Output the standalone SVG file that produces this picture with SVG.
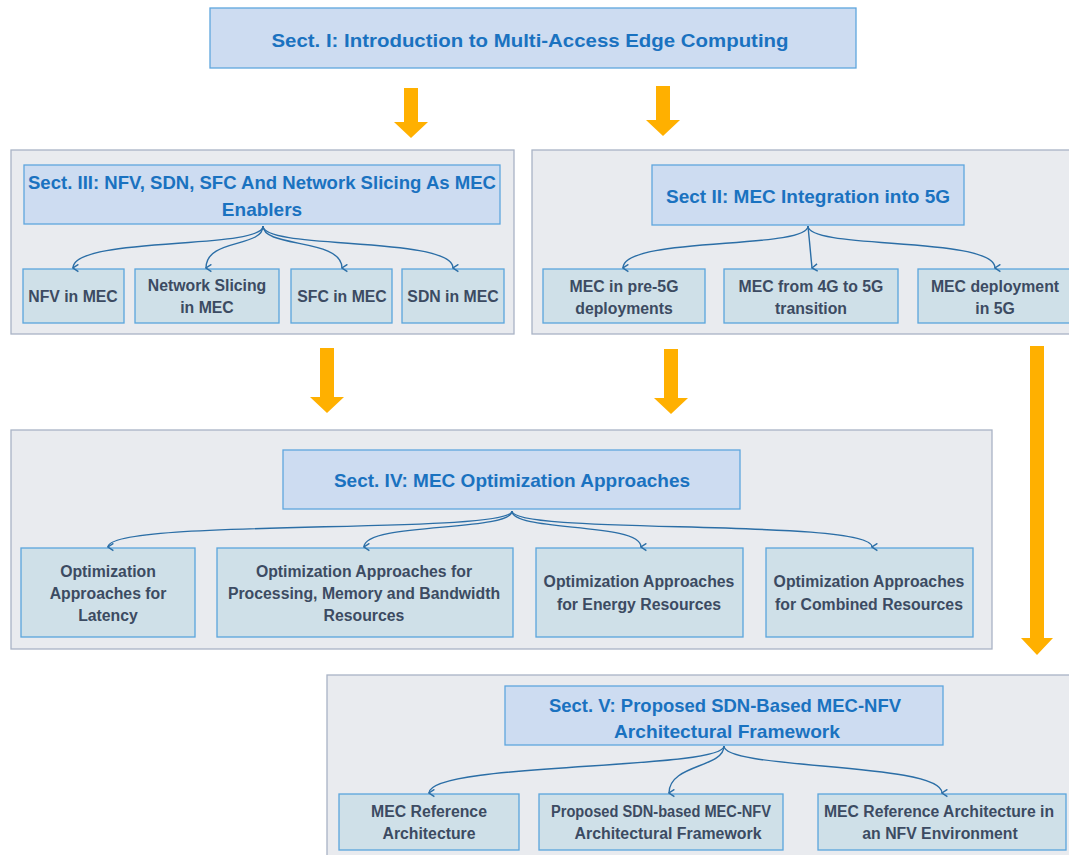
<svg xmlns="http://www.w3.org/2000/svg" width="1069" height="855" viewBox="0 0 1069 855">
<defs>
<style>
.panel{fill:#e9ebef;stroke:#a9b3c5;stroke-width:1.3}
.hdr{fill:#cddcf1;stroke:#5ea6de;stroke-width:1.3}
.chd{fill:#cfe0e8;stroke:#5aa5dc;stroke-width:1.3}
.ht{font-family:"Liberation Sans",Arial,sans-serif;font-weight:bold;font-size:19px;fill:#1a72c0;text-anchor:middle}
.ct{font-family:"Liberation Sans",Arial,sans-serif;font-weight:bold;font-size:15.8px;fill:#3c4b62;text-anchor:middle}
.con{fill:none;stroke:#2b6ea6;stroke-width:1.4;marker-end:url(#ah)}
.big{fill:#ffb000}
</style>
<marker id="ah" viewBox="0 0 10 10" refX="5" refY="9" markerWidth="9" markerHeight="9" markerUnits="userSpaceOnUse" orient="auto-start-reverse">
<path d="M1,3 L5,9 L9,3" fill="none" stroke="#2b6ea6" stroke-width="1.6"/>
</marker>
</defs>
<rect width="1069" height="855" fill="#ffffff"/>

<g id="arrows">
<path class="big" d="M404,88 H418 V122 H428 L411,138 L394,122 H404 Z"/>
<path class="big" d="M656,86 H670 V120 H680 L663,136 L646,120 H656 Z"/>
<path class="big" d="M320,348 H334 V397 H344 L327,413 L310,397 H320 Z"/>
<path class="big" d="M664,349 H678 V398 H688 L671,414 L654,398 H664 Z"/>
<path class="big" d="M1030,346 H1044 V638 H1053 L1037,655 L1021,638 H1030 Z"/>
</g>

<g id="sect1">
<rect class="hdr" x="210" y="8" width="646" height="60"/>
<text class="ht" x="530" y="47" textLength="517" lengthAdjust="spacingAndGlyphs">Sect. I: Introduction to Multi-Access Edge Computing</text>
</g>

<g id="panel3">
<rect class="panel" x="11" y="150" width="503" height="184"/>
</g>
<g id="panel2">
<rect class="panel" x="532" y="150" width="545" height="184"/>
</g>
<g id="panel4">
<rect class="panel" x="11" y="430" width="981" height="219"/>
</g>
<g id="panel5">
<rect class="panel" x="327" y="675" width="750" height="190"/>
</g>

<g id="sect3">
<rect class="hdr" x="24" y="165" width="476" height="59"/>
<text class="ht" x="262" y="189" textLength="468" lengthAdjust="spacingAndGlyphs">Sect. III: NFV, SDN, SFC And Network Slicing As MEC</text>
<text class="ht" x="262" y="216">Enablers</text>
</g>
<g id="nfv"><rect class="chd" x="23" y="269" width="101" height="54"/><text class="ct" x="73" y="302">NFV in MEC</text></g>
<g id="slicing"><rect class="chd" x="135" y="269" width="144" height="54"/><text class="ct" x="207" y="291">Network Slicing</text><text class="ct" x="207" y="313">in MEC</text></g>
<g id="sfc"><rect class="chd" x="291" y="269" width="101" height="54"/><text class="ct" x="342" y="302">SFC in MEC</text></g>
<g id="sdn"><rect class="chd" x="402" y="269" width="102" height="54"/><text class="ct" x="453" y="302">SDN in MEC</text></g>

<g id="sect2">
<rect class="hdr" x="652" y="165" width="312" height="60"/>
<text class="ht" x="808" y="203">Sect II: MEC Integration into 5G</text>
</g>
<g id="pre5g"><rect class="chd" x="543" y="269" width="162" height="54"/><text class="ct" x="624" y="292">MEC in pre-5G</text><text class="ct" x="624" y="314">deployments</text></g>
<g id="transition"><rect class="chd" x="724" y="269" width="174" height="54"/><text class="ct" x="811" y="292">MEC from 4G to 5G</text><text class="ct" x="811" y="314">transition</text></g>
<g id="deploy5g"><rect class="chd" x="918" y="269" width="160" height="54"/><text class="ct" x="995" y="292">MEC deployment</text><text class="ct" x="995" y="314">in 5G</text></g>

<g id="sect4">
<rect class="hdr" x="283" y="450" width="457" height="59"/>
<text class="ht" x="512" y="487">Sect. IV: MEC Optimization Approaches</text>
</g>
<g id="latency"><rect class="chd" x="21" y="548" width="174" height="89"/><text class="ct" x="108" y="577">Optimization</text><text class="ct" x="108" y="599">Approaches for</text><text class="ct" x="108" y="621">Latency</text></g>
<g id="processing"><rect class="chd" x="217" y="548" width="296" height="89"/><text class="ct" x="364" y="577">Optimization Approaches for</text><text class="ct" x="364" y="599">Processing, Memory and Bandwidth</text><text class="ct" x="364" y="621">Resources</text></g>
<g id="energy"><rect class="chd" x="536" y="548" width="207" height="89"/><text class="ct" x="639" y="587">Optimization Approaches</text><text class="ct" x="639" y="610">for Energy Resources</text></g>
<g id="combined"><rect class="chd" x="766" y="548" width="207" height="89"/><text class="ct" x="869" y="587">Optimization Approaches</text><text class="ct" x="869" y="610">for Combined Resources</text></g>

<g id="sect5">
<rect class="hdr" x="505" y="686" width="438" height="59"/>
<text class="ht" x="725" y="712" textLength="352" lengthAdjust="spacingAndGlyphs">Sect. V: Proposed SDN-Based MEC-NFV</text>
<text class="ht" x="727" y="738" textLength="226" lengthAdjust="spacingAndGlyphs">Architectural Framework</text>
</g>
<g id="mecref"><rect class="chd" x="339" y="794" width="180" height="56"/><text class="ct" x="429" y="817">MEC Reference</text><text class="ct" x="429" y="839">Architecture</text></g>
<g id="proposed"><rect class="chd" x="539" y="794" width="244" height="56"/><text class="ct" x="661" y="817" textLength="220" lengthAdjust="spacingAndGlyphs">Proposed SDN-based MEC-NFV</text><text class="ct" x="668" y="839" textLength="187" lengthAdjust="spacingAndGlyphs">Architectural Framework</text></g>
<g id="mecnfv"><rect class="chd" x="818" y="794" width="248" height="56"/><text class="ct" x="939" y="817" textLength="230" lengthAdjust="spacingAndGlyphs">MEC Reference Architecture in</text><text class="ct" x="940" y="839">an NFV Environment</text></g>

<g id="connectors">
<path class="con" d="M263,226 C263,250 73,236 73,268"/>
<path class="con" d="M263,226 C263,248 206,238 206,268"/>
<path class="con" d="M263,226 C263,248 342,238 342,268"/>
<path class="con" d="M263,226 C263,250 453,236 453,268"/>
<path class="con" d="M808,226 C808,250 623,236 623,268"/>
<path class="con" d="M808,226 L812,268"/>
<path class="con" d="M808,226 C808,250 995,236 995,268"/>
<path class="con" d="M512,511 C512,535 108,518 108,547"/>
<path class="con" d="M512,511 C512,532 364,522 364,547"/>
<path class="con" d="M512,511 C512,532 641,522 641,547"/>
<path class="con" d="M512,511 C512,535 872,518 872,547"/>
<path class="con" d="M724,746 C724,770 429,762 429,793"/>
<path class="con" d="M724,746 C724,768 669,764 669,793"/>
<path class="con" d="M724,746 C724,770 942,762 942,793"/>
</g>
</svg>
